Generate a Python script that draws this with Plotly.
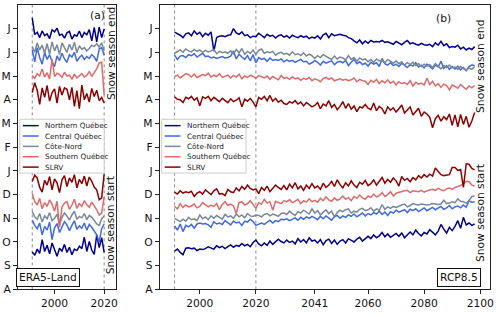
import plotly.graph_objects as go

# ---------------- data (values in months since 1 August) ----------------
years_a = list(range(1991, 2021))
years_b = list(range(1991, 2099))
regions = ["Northern Québec", "Central Québec", "Côte-Nord", "Southern Québec", "SLRV"]
month_ticks = ["A", "S", "O", "N", "D", "J", "F", "M", "A", "M", "J", "J"]
x_ticks_a = [2000, 2020]
x_ticks_b = [2000, 2020, 2041, 2060, 2080, 2100]
ref_years = [1991, 2020]

# ERA5-Land, snow season end
nq_end_a = [11.45, 10.75, 10.85, 10.62, 10.90, 10.70, 10.78, 10.58, 10.95, 10.86, 11.02, 10.72, 10.76, 10.60, 10.82,
            10.88, 10.56, 10.74, 10.68, 10.90, 10.62, 10.84, 10.74, 10.96, 10.48, 11.05, 10.44, 11.06, 10.62, 10.98]
cq_end_a = [10.10, 9.60, 10.20, 9.78, 9.50, 10.00, 9.70, 9.90, 9.60, 9.40, 9.85, 9.65, 9.96, 9.72, 9.58,
            9.90, 9.80, 10.00, 9.62, 9.78, 9.88, 9.70, 9.82, 9.74, 9.90, 9.80, 9.62, 10.14, 10.20, 9.88]
cn_end_a = [10.24, 10.00, 10.40, 10.10, 10.30, 9.96, 10.36, 9.92, 10.44, 10.06, 10.32, 9.90, 10.40, 10.18, 10.00,
            10.34, 10.10, 10.42, 9.98, 10.28, 10.12, 10.20, 10.06, 10.16, 10.30, 10.24, 10.36, 10.22, 10.40, 10.06]
sq_end_a = [9.02, 8.90, 9.10, 9.00, 9.30, 8.96, 9.14, 8.88, 9.70, 8.98, 9.12, 9.06, 8.94, 9.16, 9.00,
            9.04, 8.86, 9.08, 8.92, 9.00, 9.10, 8.96, 9.02, 9.20, 8.98, 9.14, 9.30, 9.55, 9.58, 8.20]
slrv_end_a = [8.30, 8.72, 8.40, 7.80, 8.50, 8.10, 8.60, 7.94, 8.30, 8.46, 7.86, 8.56, 8.20, 8.50, 8.44,
              8.00, 8.52, 7.72, 8.38, 7.62, 8.62, 8.00, 8.26, 7.90, 8.48, 8.14, 8.40, 7.96, 8.10, 7.86]

# ERA5-Land, snow season start
nq_start_a = [1.58, 1.44, 1.70, 1.52, 2.10, 1.60, 1.86, 1.50, 1.96, 1.68, 1.40, 1.74, 1.62, 1.90, 1.56,
              1.78, 1.46, 1.70, 1.64, 1.82, 1.72, 2.20, 1.60, 2.02, 1.66, 1.48, 2.30, 1.76, 2.18, 1.56]
cq_start_a = [2.92, 2.70, 2.56, 2.80, 2.30, 2.66, 2.50, 2.84, 2.10, 2.60, 2.78, 2.40, 2.64, 2.86, 2.72,
              2.48, 2.70, 2.90, 2.54, 2.68, 2.58, 2.80, 2.50, 2.74, 2.62, 2.44, 2.30, 2.00, 2.56, 2.76]
cn_start_a = [3.30, 3.06, 2.96, 3.20, 2.84, 3.10, 2.98, 3.24, 2.90, 3.00, 3.18, 2.72, 3.04, 3.22, 3.10,
              2.92, 3.14, 3.30, 2.96, 3.08, 3.02, 3.20, 2.94, 3.12, 3.04, 2.88, 2.76, 2.70, 2.98, 3.10]
sq_start_a = [4.05, 3.70, 3.56, 3.84, 3.40, 3.66, 3.50, 3.78, 3.60, 3.30, 3.72, 2.62, 3.48, 3.64, 3.70,
              3.38, 3.56, 3.80, 3.42, 3.62, 3.50, 3.74, 3.58, 3.46, 3.68, 3.54, 3.36, 3.14, 3.22, 3.90]
slrv_start_a = [4.55, 4.82, 4.70, 4.30, 4.10, 4.60, 4.40, 4.76, 4.20, 4.66, 4.50, 4.08, 4.62, 4.80, 4.34,
                4.70, 4.52, 4.84, 4.28, 4.64, 4.46, 4.78, 4.36, 4.74, 4.56, 4.32, 4.20, 3.78, 3.86, 4.86]

# RCP8.5, snow season end
nq_end_b = [10.85, 10.80, 10.72, 10.62, 10.78, 10.82, 10.70, 10.90, 10.76, 10.84,
            10.66, 10.80, 10.72, 10.86, 10.05, 10.62, 10.68, 10.70, 10.66, 10.72,
            10.74, 11.00, 10.82, 10.76, 10.86, 10.70, 10.74, 10.62, 10.68, 10.66,
            10.80, 10.72, 10.62, 10.76, 10.68, 10.72, 10.60, 10.70, 10.74, 10.64,
            10.70, 10.60, 10.72, 10.66, 10.62, 10.70, 10.64, 10.68, 10.58, 10.64,
            10.60, 10.70, 10.56, 10.74, 10.80, 10.62, 10.78, 10.70, 10.74, 10.76,
            10.72, 10.70, 10.62, 10.58, 10.48, 10.40, 10.52, 10.36, 10.48, 10.38,
            10.50, 10.44, 10.46, 10.44, 10.50, 10.42, 10.44, 10.40, 10.34, 10.46,
            10.40, 10.32, 10.42, 10.50, 10.36, 10.40, 10.34, 10.30, 10.38, 10.32,
            10.30, 10.34, 10.24, 10.40, 10.30, 10.46, 10.28, 10.36, 10.20, 10.24,
            10.22, 10.30, 10.14, 10.22, 10.10, 10.18, 10.12, 10.24]
cq_end_b = [9.88, 9.70, 9.84, 9.86, 9.78, 9.90, 9.86, 9.94, 9.80, 9.88,
            9.96, 9.82, 9.84, 9.76, 9.80, 9.74, 9.78, 9.82, 9.76, 9.78,
            9.84, 10.06, 9.72, 9.92, 9.80, 9.70, 9.86, 9.64, 9.90, 9.56,
            9.78, 9.70, 9.74, 9.62, 9.76, 9.66, 9.70, 9.66, 9.72, 9.60,
            9.68, 9.62, 9.66, 9.58, 9.64, 9.70, 9.60, 9.62, 9.50, 9.56,
            9.66, 9.58, 9.46, 9.62, 9.54, 9.60, 9.64, 9.48, 9.58, 9.62,
            9.56, 9.66, 9.44, 9.58, 9.70, 9.52, 9.60, 9.48, 9.54, 9.42,
            9.58, 9.50, 9.56, 9.40, 9.74, 9.52, 9.46, 9.56, 9.44, 9.50,
            9.40, 9.54, 9.44, 9.36, 9.48, 9.42, 9.56, 9.38, 9.46, 9.34,
            9.50, 9.40, 9.30, 9.46, 9.38, 9.62, 9.32, 9.44, 9.28, 9.40,
            9.30, 9.42, 9.26, 9.36, 9.22, 9.40, 9.46, 9.44]
cn_end_b = [9.96, 10.04, 10.10, 10.00, 10.14, 10.06, 10.02, 10.12, 10.04, 10.10,
            10.00, 10.08, 10.02, 10.06, 10.12, 9.94, 10.04, 9.98, 10.02, 9.96,
            10.06, 9.94, 10.12, 9.98, 10.16, 9.92, 10.04, 9.96, 10.10, 9.90,
            10.08, 10.14, 9.96, 10.02, 9.98, 10.04, 9.88, 9.96, 10.00, 9.92,
            9.96, 9.88, 10.02, 9.90, 9.94, 9.86, 9.98, 9.84, 9.92, 9.86,
            9.74, 9.86, 9.78, 9.90, 9.82, 9.76, 9.70, 9.84, 9.72, 9.80,
            9.76, 9.68, 9.86, 9.70, 9.78, 9.62, 9.76, 9.68, 9.72, 9.60,
            9.70, 9.58, 9.72, 9.64, 9.66, 9.56, 9.70, 9.60, 9.54, 9.64,
            9.52, 9.60, 9.46, 9.56, 9.48, 9.58, 9.44, 9.52, 9.40, 9.50,
            9.42, 9.48, 9.36, 9.52, 9.40, 9.30, 9.44, 9.36, 9.46, 9.34,
            9.38, 9.28, 9.40, 9.32, 9.24, 9.34, 9.28, 9.40]
sq_end_b = [8.98, 9.04, 8.92, 9.02, 9.10, 9.06, 8.96, 9.08, 8.94, 9.00,
            9.06, 9.02, 9.12, 8.96, 9.04, 8.98, 9.10, 8.94, 9.00, 9.04,
            8.92, 9.02, 8.96, 9.08, 8.88, 9.00, 8.94, 9.04, 8.98, 8.90,
            9.02, 8.96, 8.92, 9.00, 8.86, 8.98, 8.92, 8.84, 9.02, 8.90,
            8.94, 8.86, 8.96, 8.88, 8.92, 8.82, 8.90, 8.86, 8.94, 8.80,
            8.88, 8.84, 8.76, 8.90, 8.94, 8.86, 8.92, 8.80, 8.84, 8.88,
            8.82, 8.86, 8.80, 8.84, 8.92, 8.76, 8.86, 8.80, 8.78, 8.64,
            8.82, 8.74, 8.86, 8.68, 8.80, 8.72, 8.84, 8.70, 8.78, 8.62,
            8.76, 8.68, 8.72, 8.64, 8.80, 8.58, 8.74, 8.66, 8.70, 8.62,
            8.92, 8.64, 8.78, 8.58, 8.68, 8.52, 8.66, 8.60, 8.42, 8.62,
            8.56, 8.48, 8.64, 8.52, 8.44, 8.58, 8.50, 8.60]
slrv_end_b = [8.12, 8.02, 8.00, 7.88, 8.10, 8.04, 8.14, 7.98, 8.08, 7.74,
              8.12, 8.06, 8.14, 7.96, 8.10, 8.02, 7.92, 8.06, 7.98, 7.88,
              8.04, 7.92, 7.98, 8.08, 7.70, 8.02, 7.94, 8.06, 7.90, 7.70,
              8.10, 8.02, 8.14, 7.96, 8.18, 7.94, 8.06, 7.90, 7.98, 7.84,
              7.80, 7.92, 7.86, 7.96, 7.82, 7.90, 7.74, 7.88, 7.80, 7.70,
              7.76, 7.88, 7.62, 7.82, 7.74, 7.96, 7.68, 7.80, 7.58, 7.72,
              7.92, 7.64, 7.84, 7.60, 7.74, 7.50, 7.70, 7.66, 7.80, 7.64,
              7.58, 7.86, 7.54, 7.72, 7.62, 7.40, 7.70, 7.56, 7.66, 7.48,
              7.62, 7.78, 7.44, 7.58, 7.70, 7.36, 7.52, 7.64, 7.30, 7.48,
              7.40, 7.26, 6.82, 7.20, 7.34, 7.10, 7.28, 7.16, 7.40, 6.92,
              7.36, 6.86, 7.38, 6.96, 7.30, 6.84, 7.10, 7.46]

# RCP8.5, snow season start
nq_start_b = [1.62, 1.70, 1.56, 1.46, 1.74, 1.76, 1.72, 1.74, 1.64, 1.70,
              1.68, 1.72, 1.80, 1.74, 1.70, 1.84, 1.76, 1.82, 1.72, 1.80,
              1.88, 1.78, 1.86, 1.82, 1.94, 1.84, 1.90, 1.80, 1.98, 2.08,
              1.92, 1.84, 1.96, 1.86, 2.04, 1.90, 2.00, 2.12, 2.02, 1.96,
              2.08, 1.98, 2.04, 1.92, 2.14, 2.00, 2.10, 1.96, 2.18, 2.04,
              2.08, 1.96, 2.10, 1.88, 2.06, 2.12, 1.94, 2.08, 1.90, 2.04,
              2.10, 1.96, 2.14, 2.06, 2.00, 2.12, 2.20, 2.04, 2.16, 2.24,
              2.14, 2.30, 2.18, 2.26, 2.40, 2.22, 2.34, 2.20, 2.28, 2.36,
              2.24, 2.38, 2.18, 2.32, 2.42, 2.30, 2.50, 2.36, 2.26, 2.40,
              2.34, 2.52, 2.40, 2.30, 2.46, 2.74, 2.54, 2.38, 2.62, 2.48,
              2.66, 2.90, 2.58, 3.04, 2.72, 2.80, 2.70, 2.76]
cq_start_b = [2.68, 2.50, 2.76, 2.44, 2.70, 2.64, 2.74, 2.58, 2.76, 2.80,
              2.76, 2.78, 2.72, 2.62, 2.86, 2.76, 2.80, 2.74, 2.90, 2.82,
              2.72, 2.88, 2.80, 2.84, 2.70, 2.88, 2.84, 2.96, 2.86, 2.70,
              2.76, 2.80, 2.74, 2.84, 2.92, 2.80, 2.90, 2.86, 2.96, 2.94,
              2.98, 2.90, 2.96, 3.02, 2.92, 3.04, 2.96, 3.06, 3.00, 3.08,
              3.02, 2.94, 3.08, 2.98, 3.10, 3.02, 2.92, 3.06, 3.12, 3.00,
              3.10, 3.04, 3.14, 3.08, 3.18, 3.06, 3.16, 3.22, 3.10, 3.20,
              3.14, 3.24, 3.18, 3.30, 3.16, 3.26, 3.12, 3.28, 3.22, 3.34,
              3.26, 3.30, 3.36, 3.24, 3.38, 3.32, 3.40, 3.28, 3.36, 3.44,
              3.32, 3.40, 3.46, 3.36, 3.42, 3.50, 3.38, 3.44, 3.54, 3.40,
              3.48, 3.52, 3.44, 3.56, 3.46, 3.74, 3.68, 3.70]
cn_start_b = [3.00, 2.92, 2.86, 2.96, 2.88, 3.04, 2.94, 2.98, 2.90, 3.14,
              2.98, 3.06, 2.94, 3.10, 3.00, 3.12, 3.04, 2.96, 3.16, 3.06,
              3.10, 3.00, 3.18, 3.06, 3.14, 3.02, 3.20, 3.10, 3.08, 3.14,
              3.12, 3.06, 3.16, 3.20, 3.10, 3.18, 3.14, 3.08, 3.20, 3.22,
              3.16, 3.30, 3.20, 3.12, 3.28, 3.22, 3.34, 3.24, 3.18, 3.40,
              3.22, 3.32, 3.14, 3.26, 3.36, 3.20, 3.30, 3.06, 3.24, 3.34,
              3.28, 3.36, 3.40, 3.22, 3.30, 3.26, 3.38, 3.42, 3.32, 3.36,
              3.44, 3.30, 3.40, 3.34, 3.58, 3.38, 3.48, 3.42, 3.50, 3.46,
              3.52, 3.56, 3.60, 3.48, 3.54, 3.62, 3.58, 3.56, 3.60, 3.58,
              3.56, 3.58, 3.62, 3.60, 3.58, 3.60, 3.76, 3.62, 3.64, 3.70,
              3.66, 3.82, 3.72, 3.70, 3.64, 3.74, 3.92, 3.94]
sq_start_b = [3.50, 3.40, 3.62, 3.46, 3.56, 3.48, 3.52, 3.60, 3.44, 3.50,
              3.66, 3.58, 3.48, 3.56, 3.50, 3.62, 3.36, 3.58, 3.70, 3.54,
              3.60, 3.52, 3.20, 3.66, 3.70, 3.56, 3.62, 3.74, 3.58, 3.42,
              3.66, 3.60, 3.80, 3.64, 3.70, 3.34, 3.72, 3.68, 3.62, 3.74,
              3.70, 3.78, 3.66, 3.72, 3.80, 3.62, 3.74, 3.68, 3.82, 3.70,
              3.76, 3.68, 3.84, 3.74, 3.90, 3.78, 3.72, 3.86, 3.76, 3.82,
              3.94, 3.80, 3.88, 3.74, 3.92, 3.84, 3.98, 3.86, 3.80, 3.94,
              3.88, 4.02, 3.90, 3.96, 4.08, 3.92, 4.00, 4.12, 3.94, 4.06,
              4.10, 4.14, 4.16, 4.18, 4.08, 4.16, 4.14, 4.12, 4.18, 4.10,
              4.16, 4.20, 4.22, 4.18, 4.26, 4.20, 4.16, 4.24, 4.28, 4.22,
              4.30, 4.34, 4.40, 4.44, 4.56, 4.54, 4.40, 4.36]
slrv_start_b = [4.10, 4.02, 4.16, 4.06, 4.12, 4.08, 4.14, 3.92, 4.06, 4.12,
                4.02, 4.20, 4.10, 4.00, 4.16, 4.24, 4.02, 4.04, 3.96, 4.22,
                4.12, 4.08, 4.28, 4.16, 4.34, 4.22, 4.40, 4.26, 4.20, 4.24,
                4.04, 4.30, 4.18, 4.36, 4.12, 4.26, 4.40, 4.30, 4.22, 4.38,
                4.20, 4.44, 4.28, 4.50, 4.24, 4.36, 4.18, 4.40, 4.26, 4.46,
                4.28, 4.36, 4.22, 4.48, 4.30, 4.40, 4.56, 4.34, 4.62, 4.42,
                4.28, 4.50, 4.36, 4.58, 4.40, 4.30, 4.52, 4.44, 4.60, 4.38,
                4.46, 4.62, 4.40, 4.56, 4.72, 4.48, 4.64, 4.52, 4.70, 4.58,
                4.36, 4.76, 4.60, 4.68, 4.54, 4.72, 4.62, 4.80, 4.70, 4.84,
                4.74, 4.86, 4.78, 5.12, 4.98, 4.84, 4.80, 4.82, 4.84, 5.14,
                5.14, 5.02, 5.06, 4.30, 5.30, 5.28, 5.10, 5.04]

# ---------------- styling ----------------
colors = ["#00008B", "#4169E1", "#778899", "#DF6A6A", "#8B0000"]
W, H = 500, 315
FONT = "DejaVu Sans"

ends_a = [nq_end_a, cq_end_a, cn_end_a, sq_end_a, slrv_end_a]
starts_a = [nq_start_a, cq_start_a, cn_start_a, sq_start_a, slrv_start_a]
ends_b = [nq_end_b, cq_end_b, cn_end_b, sq_end_b, slrv_end_b]
starts_b = [nq_start_b, cq_start_b, cn_start_b, sq_start_b, slrv_start_b]
for s in ends_b + starts_b:
    assert len(s) == len(years_b)
for s in ends_a + starts_a:
    assert len(s) == len(years_a)

fig = go.Figure()
for i, name in enumerate(regions):
    for ys, ax in ((ends_a[i], ("x", "y")), (starts_a[i], ("x", "y")),
                   (ends_b[i], ("x2", "y2")), (starts_b[i], ("x2", "y2"))):
        xs = years_a if ax[0] == "x" else years_b
        fig.add_trace(go.Scatter(x=xs, y=ys, mode="lines", name=name,
                                 line=dict(color=colors[i], width=1.5),
                                 xaxis=ax[0], yaxis=ax[1], showlegend=False))

def px(x):
    return x / W

def py(y):
    return 1 - y / H

ydom = [py(296), py(5)]
axis_common = dict(showline=True, mirror=True, linecolor="#222", linewidth=1,
                   ticks="outside", ticklen=4, tickwidth=1, tickcolor="#222",
                   showgrid=False, zeroline=False,
                   tickfont=dict(family=FONT, size=10.7, color="#111"))
fig.update_layout(
    width=W, height=H, margin=dict(l=0, r=0, t=0, b=0),
    paper_bgcolor="white", plot_bgcolor="white",
    font=dict(family=FONT, size=10.7, color="#111"),
    xaxis=dict(domain=[px(18), px(117)], range=[1985.2, 2024.8], tickvals=x_ticks_a,
               anchor="y", **axis_common),
    yaxis=dict(domain=ydom, range=[0, 12], tickvals=list(range(12)), ticktext=month_ticks,
               anchor="x", **axis_common),
    xaxis2=dict(domain=[px(161), px(494)], range=[1985.7, 2103.5], tickvals=x_ticks_b,
                anchor="y2", **axis_common),
    yaxis2=dict(domain=ydom, range=[0, 12], tickvals=list(range(12)), ticktext=month_ticks,
                anchor="x2", **axis_common),
)

shapes = []
for xa, ya in (("x", "y"), ("x2", "y2")):
    for yr in ref_years:
        shapes.append(dict(type="line", xref=xa, yref=ya + " domain", x0=yr, x1=yr, y0=0, y1=1,
                           line=dict(color="#888", width=1, dash="dot"), layer="below"))

annotations = []
# manual legends
for lx in (20, 163):
    shapes.append(dict(type="rect", xref="paper", yref="paper",
                       x0=px(lx), x1=px(lx + 85), y0=py(177), y1=py(122),
                       fillcolor="rgba(255,255,255,0.9)", line=dict(color="#cccccc", width=1),
                       layer="above"))
    for i, name in enumerate(regions):
        yy = 128.5 + 10.6 * i
        shapes.append(dict(type="line", xref="paper", yref="paper",
                           x0=px(lx + 3), x1=px(lx + 19), y0=py(yy), y1=py(yy),
                           line=dict(color=colors[i], width=1.5), layer="above"))
        annotations.append(dict(xref="paper", yref="paper", x=px(lx + 23), y=py(yy),
                                text=name, showarrow=False, xanchor="left", yanchor="middle",
                                font=dict(family=FONT, size=7.3, color="#222")))

def rot(text, x, y):
    annotations.append(dict(xref="paper", yref="paper", x=px(x), y=py(y), text=text,
                            showarrow=False, textangle=-90, xanchor="center", yanchor="middle",
                            font=dict(family=FONT, size=10.7, color="#111")))

rot("Snow season end", 111.7, 54.5)
rot("Snow season start", 111.7, 230.5)
rot("Snow season end", 484.3, 68)
rot("Snow season start", 484.3, 217.5)

for txt, cx, cy in (("(a)", 98.5, 15.5), ("(b)", 447, 19)):
    annotations.append(dict(xref="paper", yref="paper", x=px(cx), y=py(cy), text=txt,
                            showarrow=False, xanchor="center", yanchor="middle",
                            font=dict(family=FONT, size=10.7, color="#111")))
for txt, cx in (("ERA5-Land", 48.5), ("RCP8.5", 463)):
    annotations.append(dict(xref="paper", yref="paper", x=px(cx), y=py(283.5), text=txt,
                            showarrow=False, bgcolor="white", bordercolor="#111",
                            borderwidth=1, borderpad=2, xanchor="center", yanchor="middle",
                            font=dict(family=FONT, size=10.7, color="#111")))

fig.update_layout(shapes=shapes, annotations=annotations)
fig.write_html("out.html", config={"displayModeBar": False},
               post_script="document.body.style.margin='0';document.body.style.padding='0';")
